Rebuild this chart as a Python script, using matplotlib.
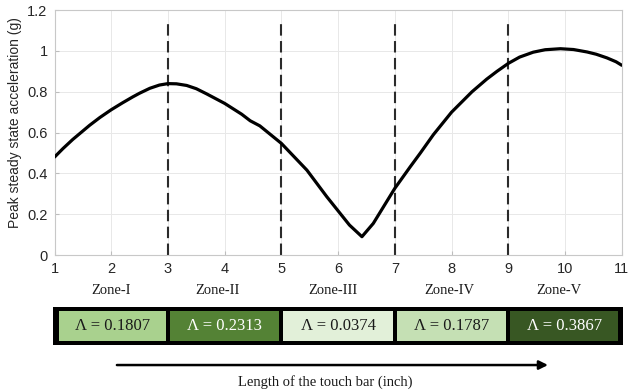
import matplotlib.pyplot as plt
from matplotlib.patches import Rectangle

# Peak steady state acceleration along the touch bar
position = [1.0, 1.15, 1.32, 1.62, 1.8, 2.0, 2.2, 2.38, 2.5, 2.68, 2.85, 3.0,
            3.15, 3.33, 3.5, 3.68, 4.0, 4.3, 4.45, 4.62, 5.0, 5.45, 5.8, 6.2,
            6.42, 6.62, 7.0, 7.27, 7.45, 7.68, 8.0, 8.36, 8.62, 8.8, 9.0,
            9.2, 9.44, 9.65, 9.92, 10.15, 10.39, 10.55, 10.74, 10.9, 11.0]
accel = [0.48, 0.522, 0.566, 0.636, 0.674, 0.712, 0.746, 0.775, 0.793, 0.817,
         0.833, 0.84, 0.839, 0.831, 0.815, 0.79, 0.743, 0.69, 0.658, 0.633,
         0.547, 0.416, 0.286, 0.147, 0.09, 0.155, 0.327, 0.432, 0.5, 0.59,
         0.70, 0.80, 0.862, 0.90, 0.939, 0.97, 0.994, 1.006, 1.011, 1.007,
         0.995, 0.984, 0.966, 0.947, 0.93]

zone_edges = [1, 3, 5, 7, 9, 11]
zone_names = ["Zone-I", "Zone-II", "Zone-III", "Zone-IV", "Zone-V"]
zone_lambda = [0.1807, 0.2313, 0.0374, 0.1787, 0.3867]
zone_colors = ["#A9D18E", "#548235", "#E2F0D9", "#C5E0B4", "#385723"]
zone_text_colors = ["#1a1a1a", "white", "#1a1a1a", "#1a1a1a", "white"]
zone_label_x = [2.0, 3.88, 5.9, 7.96, 9.9]

plt.rcParams['font.family'] = ['Liberation Sans', 'DejaVu Sans']
serif = ['Liberation Serif', 'DejaVu Serif']

fig = plt.figure(figsize=(6.28, 3.9), dpi=100)
ax = fig.add_axes([0.0868, 0.346, 0.9032, 0.628])

ax.plot(position, accel, color='black', lw=2.3, solid_joinstyle='round',
        solid_capstyle='round', zorder=3)
for xb in zone_edges[1:-1]:
    ax.plot([xb, xb], [0, 1.15], color='#2b2b2b', lw=1.5, dashes=(5.5, 2.6),
            zorder=2)

ax.set_xlim(1, 11)
ax.set_ylim(0, 1.2)
ax.set_xticks(range(1, 12))
ax.set_yticks([0, 0.2, 0.4, 0.6, 0.8, 1, 1.2])
ax.set_yticklabels(["0", "0.2", "0.4", "0.6", "0.8", "1", "1.2"])
ax.grid(True, color='#e8e8e8', lw=0.7)
ax.set_axisbelow(True)
ax.tick_params(direction='in', length=3, color='#bdbdbd', labelsize=10.5,
               labelcolor='#262626', pad=5)
for s in ax.spines.values():
    s.set_color('#c8c8c8')
    s.set_linewidth(0.8)
ax.set_ylabel("Peak steady state acceleration (g)", fontsize=10,
              color='#262626')
ax.yaxis.set_label_coords(-0.058, 0.54)

for name, xl in zip(zone_names, zone_label_x):
    ax.text(xl, -0.172, name, ha='center', va='center', fontsize=10.5,
            family=serif, color='#1a1a1a', clip_on=False)

# Lambda strip under the zones, sharing the x scale
sx = fig.add_axes([0.0868, 0.115, 0.9032, 0.098])
sx.set_xlim(1, 11)
sx.set_ylim(0, 1)
sx.axis('off')
sx.add_patch(Rectangle((0.975, 0), 10.05, 1, facecolor='black',
                       edgecolor='none', clip_on=False))
for i in range(len(zone_lambda)):
    x0 = zone_edges[i] + (0.08 if i == 0 else 0.035)
    x1 = zone_edges[i + 1] - (0.06 if i == len(zone_lambda) - 1 else 0.035)
    sx.add_patch(Rectangle((x0, 0.1), x1 - x0, 0.8,
                           facecolor=zone_colors[i], edgecolor='none',
                           clip_on=False))
    sx.text((x0 + x1) / 2, 0.5, "\u039b = %.4f" % zone_lambda[i],
            ha='center', va='center', fontsize=12, family=serif,
            color=zone_text_colors[i])

# Direction arrow and caption
sx.annotate("", xy=(9.7, 0.064), xytext=(2.1, 0.064),
            xycoords=('data', 'figure fraction'),
            textcoords=('data', 'figure fraction'),
            arrowprops=dict(arrowstyle='-|>', lw=1.8, color='black',
                            mutation_scale=13, shrinkA=0, shrinkB=0))
fig.text(325 / 628, 0.021, "Length of the touch bar (inch)", ha='center',
         va='center', fontsize=10.5, family=serif, color='#1a1a1a')

fig.savefig('out.png', dpi=100)
